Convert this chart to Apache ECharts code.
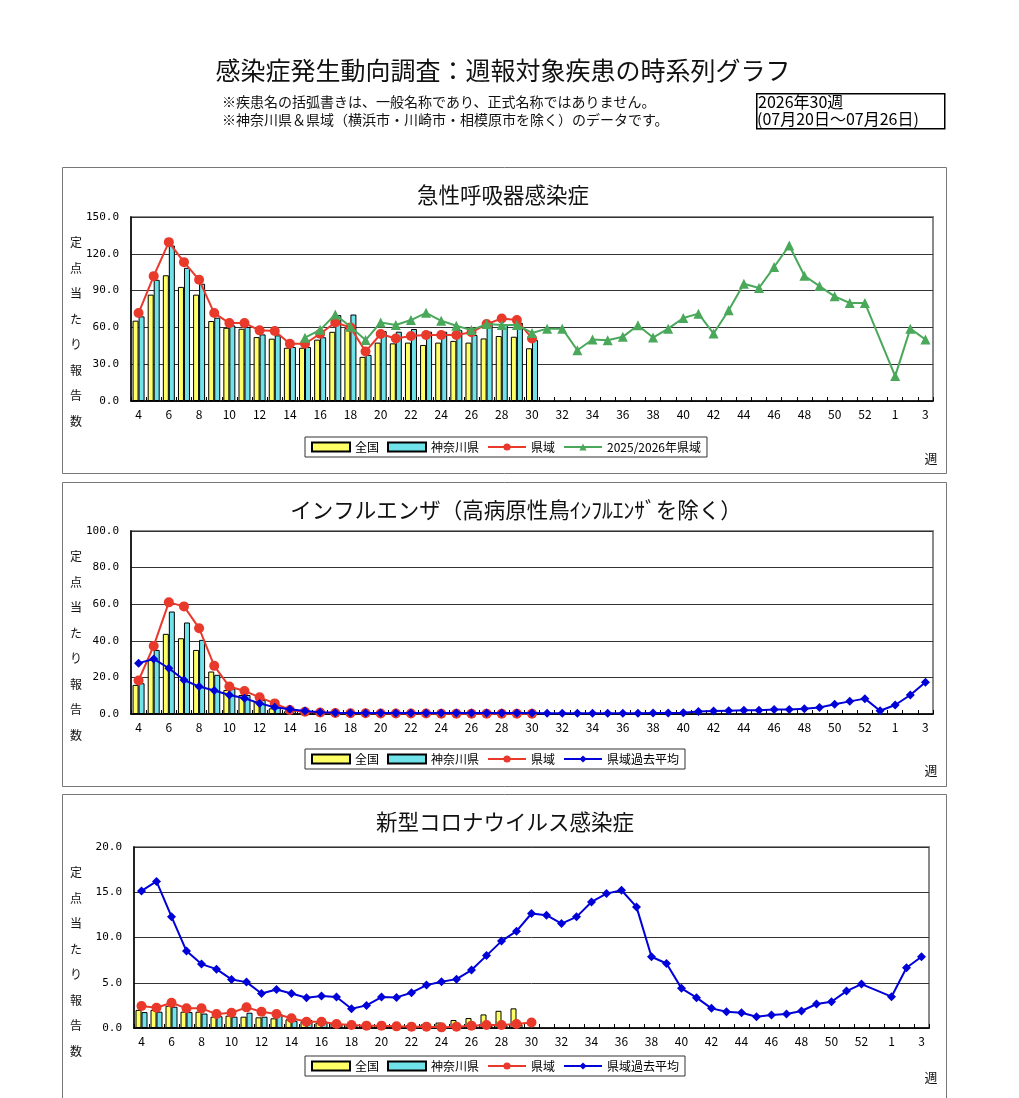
<!DOCTYPE html>
<html><head><meta charset="utf-8">
<script src="https://cdn.jsdelivr.net/npm/echarts@6/dist/echarts.min.js"></script>
<style>html,body{margin:0;padding:0;background:#fff}#c{width:1019px;height:1098px}</style>
</head><body><div id="c"></div>
<script>
// x-axis categories (weeks)
const weeks = ['4','5','6','7','8','9','10','11','12','13','14','15','16','17','18','19','20','21','22','23','24','25','26','27','28','29','30','31','32','33','34','35','36','37','38','39','40','41','42','43','44','45','46','47','48','49','50','51','52','53','1','2','3'];

// Panel 1: 急性呼吸器感染症 (weeks 4-30)
const ari_national = [65.5,86.7,102.5,93.0,86.7,65.2,59.7,58.9,52.1,50.8,43.4,43.4,50.0,56.4,59.5,36.0,47.6,47.0,47.6,45.7,47.6,49.0,47.6,51.0,53.0,52.4,43.0];
const ari_kanagawa = [69.0,98.8,126.8,108.6,95.6,67.9,61.6,60.3,54.3,53.5,44.0,44.0,52.0,70.0,70.5,37.6,57.0,56.5,58.7,56.5,56.5,57.8,53.8,64.6,62.7,63.8,49.7];
const ari_pref = [71.7,101.8,129.5,113.2,98.8,71.7,63.5,63.5,57.6,57.0,46.7,46.7,54.8,64.0,60.0,40.3,54.6,51.0,53.0,53.8,53.8,53.8,56.0,62.7,67.3,66.0,51.0];
const ari_prevSeason = [null,null,null,null,null,null,null,null,null,null,null,51.6,58.0,70.5,60.5,49.7,64.0,62.0,66.0,71.9,65.4,61.4,57.8,62.7,62.0,62.0,55.5,59.0,59.0,41.4,50.1,49.6,52.3,61.8,51.7,59.0,67.7,71.2,55.0,74.0,95.6,92.1,109.2,126.8,102.1,93.7,85.3,79.9,79.9,null,20.3,59.0,50.1];

// Panel 2: インフルエンザ (weeks 4-30)
const flu_national = [15.9,29.6,43.8,41.4,35.0,23.2,13.1,10.4,6.8,3.1,1.5,0.8,0.5,0.4,0.3,0.2,0.2,0.2,0.2,0.2,0.2,0.2,0.2,0.2,0.2,0.2,0.2];
const flu_kanagawa = [16.8,35.0,56.0,50.0,40.5,21.4,14.0,10.4,7.7,4.0,1.8,1.0,0.6,0.4,0.3,0.3,0.2,0.2,0.2,0.2,0.2,0.2,0.2,0.2,0.2,0.2,0.2];
const flu_pref = [18.3,37.2,61.0,58.8,46.9,26.3,15.0,12.6,9.1,5.8,2.2,1.2,0.8,0.5,0.4,0.4,0.3,0.3,0.3,0.3,0.2,0.2,0.2,0.2,0.2,0.2,0.2];
const flu_pastAvg = [27.8,30.1,25.0,18.6,15.0,12.8,10.4,8.6,5.8,3.7,2.6,1.6,1.0,0.7,0.6,0.5,0.5,0.5,0.5,0.5,0.5,0.5,0.5,0.5,0.5,0.5,0.5,0.4,0.4,0.4,0.4,0.4,0.4,0.4,0.5,0.5,0.7,1.3,1.6,1.8,2.0,2.0,2.4,2.5,2.9,3.6,5.3,6.9,8.4,1.8,4.9,10.4,17.3];

// Panel 3: 新型コロナウイルス感染症 (weeks 4-30)
const cov_national = [2.0,2.0,2.46,1.8,1.8,1.25,1.36,1.25,1.18,1.07,0.96,0.74,0.6,0.5,0.33,0.28,0.25,0.25,0.3,0.4,0.6,0.88,1.1,1.5,1.9,2.17,null];
const cov_kanagawa = [1.76,1.8,2.35,1.76,1.6,1.3,1.25,1.69,1.25,1.54,0.8,0.88,0.7,0.44,0.3,0.25,0.22,0.2,0.15,0.15,0.1,0.15,0.2,0.25,0.3,0.4,null];
const cov_pref = [2.43,2.24,2.79,2.17,2.17,1.54,1.69,2.28,1.8,1.54,1.07,0.7,0.7,0.44,0.33,0.26,0.26,0.18,0.15,0.15,0.07,0.15,0.26,0.33,0.33,0.44,0.6];
const cov_pastAvg = [15.15,16.2,12.3,8.5,7.06,6.5,5.37,5.07,3.82,4.26,3.82,3.35,3.53,3.42,2.13,2.5,3.42,3.38,3.9,4.74,5.1,5.4,6.4,8.0,9.6,10.7,12.65,12.46,11.54,12.28,13.93,14.85,15.22,13.38,7.87,7.13,4.38,3.35,2.17,1.8,1.69,1.25,1.43,1.54,1.88,2.65,2.9,4.08,4.85,null,3.46,6.65,7.87];

// Y-axis scales
const yMax = [150, 100, 20];
const yStep = [30, 20, 5];

const panelTitles = ['急性呼吸器感染症','インフルエンザ（高病原性鳥ｲﾝﾌﾙｴﾝｻﾞを除く）','新型コロナウイルス感染症'];
const legendNames = [['全国','神奈川県','県域','2025/2026年県域'],['全国','神奈川県','県域','県域過去平均'],['全国','神奈川県','県域','県域過去平均']];

const FONT = '"Noto Sans CJK JP", sans-serif';
const YELLOW = '#ffff66', CYAN = '#6fe2ea', RED = '#e8392b', GREEN = '#4aa85a', BLUE = '#0000d8';

const grids = [
  {left:131, top:217, width:802, height:184},
  {left:131, top:531, width:802, height:183},
  {left:134, top:847, width:795, height:181}
];
const panels = [{y:165,h:306,cx:503},{y:480,h:304,cx:516},{y:792,h:305,cx:505}];
const legendTops = [437, 749, 1056];

const chart = echarts.init(document.getElementById('c'), null, {renderer:'canvas'});

const xAxis = [], yAxis = [], series = [], legend = [], graphic = [];
grids.forEach((g, i) => {
  Object.assign(g, {show:true, borderColor:'#8a8a8a', borderWidth:2, backgroundColor:'#fff'});
  xAxis.push({type:'category', gridIndex:i, data:weeks, boundaryGap:true,
    axisLine:{show:true, lineStyle:{color:'#000', width:1.5}},
    axisTick:{show:true, inside:true, length:4, interval:0, lineStyle:{color:'#000'}},
    axisLabel:{interval:1, color:'#000', fontSize:12, fontFamily:FONT, margin:7}
  });
  yAxis.push({type:'value', gridIndex:i, min:0, max:yMax[i], interval:yStep[i],
    axisLine:{show:true, lineStyle:{color:'#000', width:1.5}},
    axisTick:{show:false},
    axisLabel:{color:'#000', fontSize:11, fontFamily:'"DejaVu Sans Mono", monospace', margin:12, formatter:v=>v.toFixed(1)},
    splitLine:{show:true, lineStyle:{color:'#333', width:1}}
  });
});

function barSeries(name, data, color, gi){
  return {name, type:'bar', xAxisIndex:gi, yAxisIndex:gi, data, barWidth:6, barGap:'0%',
    itemStyle:{color, borderColor:'#000', borderWidth:1}, z:2};
}
function lineSeries(name, data, color, symbol, size, gi, z){
  return {name, type:'line', xAxisIndex:gi, yAxisIndex:gi, data, symbol, symbolSize:size,
    showAllSymbol:true, connectNulls:true, lineStyle:{color, width:2}, itemStyle:{color}, z};
}

series.push(barSeries('全国', ari_national, YELLOW, 0));
series.push(barSeries('神奈川県', ari_kanagawa, CYAN, 0));
series.push(lineSeries('県域', ari_pref, RED, 'circle', 10, 0, 4));
series.push(lineSeries('2025/2026年県域', ari_prevSeason, GREEN, 'triangle', 10, 0, 5));

series.push(barSeries('全国', flu_national, YELLOW, 1));
series.push(barSeries('神奈川県', flu_kanagawa, CYAN, 1));
series.push(lineSeries('県域', flu_pref, RED, 'circle', 10, 1, 4));
series.push(lineSeries('県域過去平均', flu_pastAvg, BLUE, 'diamond', 9, 1, 5));

series.push(barSeries('全国', cov_national, YELLOW, 2));
series.push(barSeries('神奈川県', cov_kanagawa, CYAN, 2));
series.push(lineSeries('県域', cov_pref, RED, 'circle', 10, 2, 4));
series.push(lineSeries('県域過去平均', cov_pastAvg, BLUE, 'diamond', 9, 2, 5));

legendNames.forEach((names, i) => {
  legend.push({left:305, top:legendTops[i], width:420, orient:'horizontal',
    backgroundColor:'#fff', borderColor:'#333', borderWidth:1, padding:[4,6,4,6],
    itemWidth:38, itemHeight:9, itemGap:8, selectedMode:false,
    textStyle:{fontSize:12, color:'#000', fontFamily:FONT},
    data:names.map((n, k) => k < 2 ? {name:n, icon:'rect'} : {name:n})
  });
});

// Panels, titles, axis names
panels.forEach((p, i) => {
  graphic.push({type:'rect', left:60, top:p.y, shape:{width:884, height:p.h}, style:{fill:null, stroke:'#777', lineWidth:1}, z:-10, silent:true});
  graphic.push({type:'text', x:p.cx, y:p.y+30, style:{text:panelTitles[i], fontSize:21.5, fontFamily:FONT, fill:'#111', align:'center', verticalAlign:'middle'}});
  graphic.push({type:'text', x:76, y:grids[i].top+13, style:{text:'定\n点\n当\nた\nり\n報\n告\n数', fontSize:12, lineHeight:25.5, fontFamily:FONT, fill:'#111', align:'center', verticalAlign:'top'}});
  graphic.push({type:'text', x:931, y:legendTops[i]+21, style:{text:'週', fontSize:13, fontFamily:FONT, fill:'#111', align:'center', verticalAlign:'middle'}});
});

// Header
graphic.push({type:'text', x:503, y:70, style:{text:'感染症発生動向調査：週報対象疾患の時系列グラフ', fontSize:25, fontFamily:FONT, fill:'#111', align:'center', verticalAlign:'middle'}});
graphic.push({type:'text', x:222, y:102, style:{text:'※疾患名の括弧書きは、一般名称であり、正式名称ではありません。', fontSize:14, fontFamily:FONT, fill:'#111', verticalAlign:'middle'}});
graphic.push({type:'text', x:222, y:120, style:{text:'※神奈川県＆県域（横浜市・川崎市・相模原市を除く）のデータです。', fontSize:14, fontFamily:FONT, fill:'#111', verticalAlign:'middle'}});
graphic.push({type:'rect', left:756, top:93, shape:{width:188, height:35}, style:{fill:'#fff', stroke:'#000', lineWidth:1.5}});
graphic.push({type:'text', x:758, y:102, style:{text:'2026年30週', fontSize:16, fontFamily:FONT, fill:'#000', verticalAlign:'middle'}});
graphic.push({type:'text', x:757, y:119, style:{text:'(07月20日～07月26日)', fontSize:16, fontFamily:FONT, fill:'#000', verticalAlign:'middle'}});

// pad 27-week series to full category length with nulls
series.forEach(s => { while (s.data.length < weeks.length) s.data = s.data.concat([null]); });

chart.setOption({animation:false, backgroundColor:'#fff', grid:grids, xAxis, yAxis, series, legend, graphic});
</script></body></html>
